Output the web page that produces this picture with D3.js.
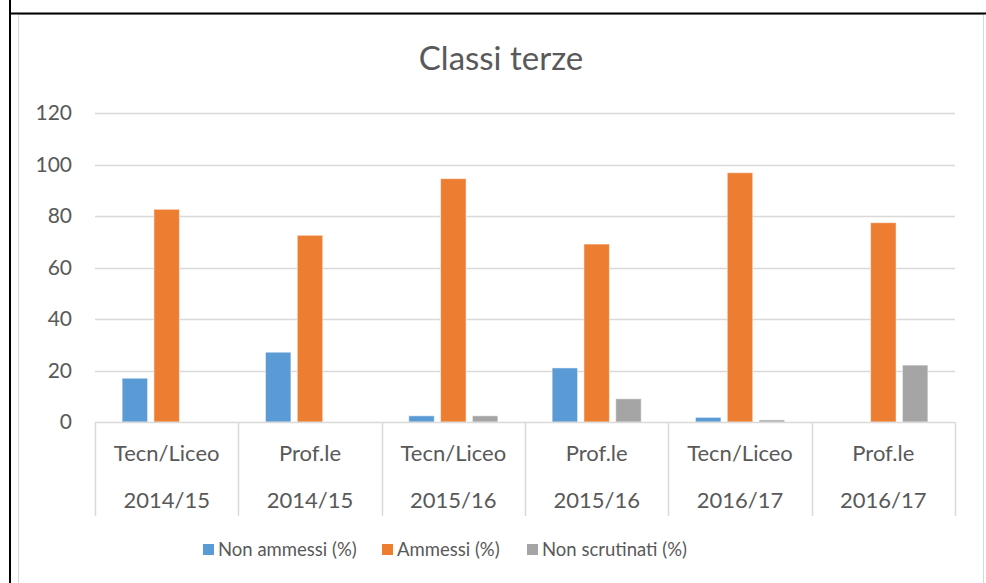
<!DOCTYPE html>
<html>
    <head>
        <title>Classi terze</title>
        <style>
            body { margin:0; background:white; }
            svg { display:block; font-family:Lato, "Open Sans", sans-serif; }
        </style>
    </head>
    <body>
        <div id="chart"></div>
        <script src="https://d3js.org/d3.v7.min.js"></script>
        <script>
            var indirizzi = ["Tecn/Liceo", "Prof.le", "Tecn/Liceo", "Prof.le", "Tecn/Liceo", "Prof.le"];
            var anni = ["2014/15", "2014/15", "2015/16", "2015/16", "2016/17", "2016/17"];
            var serie = ["Non ammessi (%)", "Ammessi (%)", "Non scrutinati (%)"];
            var nonAmmessi = [17, 27.1, 2.4, 21, 1.8, 0];
            var ammessi = [82.6, 72.5, 94.5, 69.1, 96.8, 77.4];
            var nonScrutinati = [0, 0, 2.4, 9, 0.8, 22.1];
            var yTicks = [0, 20, 40, 60, 80, 100, 120];
            var colori = ["#5B9BD5", "#ED7D31", "#A5A5A5"];

            var valori = [nonAmmessi, ammessi, nonScrutinati];
            var W = 986, H = 583;
            var svg = d3.select("#chart").append("svg")
                .attr("width", W).attr("height", H);

            // outer frame
            svg.append("rect").attr("x", 18.5).attr("y", 14.5)
                .attr("width", 965).attr("height", 580)
                .attr("fill", "white").attr("stroke", "#d9d9d9");
            svg.append("line").attr("x1", 9).attr("x2", 986).attr("y1", 13.5).attr("y2", 13.5)
                .attr("stroke", "black").attr("stroke-width", 2);
            svg.append("line").attr("x1", 10).attr("x2", 10).attr("y1", 0).attr("y2", H)
                .attr("stroke", "black").attr("stroke-width", 2);

            var plotL = 95, plotR = 955, plotT = 113, plotB = 422;
            var idx = d3.range(indirizzi.length);
            var x = d3.scaleBand().domain(idx).range([plotL, plotR]).padding(0);
            var xs = d3.scaleBand().domain(d3.range(serie.length))
                .range([0, x.bandwidth()]).paddingInner(0.2).paddingOuter(0.853);
            var y = d3.scaleLinear().domain([0, 120]).range([plotB, plotT]);

            svg.append("text").attr("x", 501).attr("y", 70)
                .attr("text-anchor", "middle").attr("font-size", 33)
                .attr("fill", "#595959").text("Classi terze");

            // gridlines
            svg.append("g").selectAll("line").data(yTicks.slice(1)).enter().append("line")
                .attr("x1", plotL).attr("x2", plotR)
                .attr("y1", function(d) { return Math.round(y(d)) + 0.5; })
                .attr("y2", function(d) { return Math.round(y(d)) + 0.5; })
                .attr("stroke", "#d9d9d9").attr("stroke-width", 1.5);

            var yAxis = svg.append("g").attr("transform", "translate(" + plotL + ",0)")
                .call(d3.axisLeft(y).tickValues(yTicks).tickSize(0).tickPadding(23));
            yAxis.select(".domain").remove();
            yAxis.selectAll("text").attr("font-size", 21).attr("fill", "#595959")
                .attr("font-family", "Lato, sans-serif");

            // bars
            svg.append("g").selectAll("g").data(valori).enter().append("g")
                .attr("fill", function(d, i) { return colori[i]; })
                .each(function(vals, s) {
                    d3.select(this).selectAll("rect").data(vals).enter().append("rect")
                        .attr("x", function(d, i) { return x(i) + xs(s); })
                        .attr("width", xs.bandwidth())
                        .attr("y", function(d) { return y(d); })
                        .attr("height", function(d) { return plotB - y(d); })
                        .attr("stroke", "white").attr("stroke-opacity", 0.5).attr("stroke-width", 1);
                });

            // category axis
            var ax = svg.append("g");
            ax.append("line").attr("x1", plotL).attr("x2", plotR).attr("y1", plotB + 0.5).attr("y2", plotB + 0.5)
                .attr("stroke", "#d9d9d9").attr("stroke-width", 1.5);
            ax.selectAll(".sep").data(d3.range(indirizzi.length + 1)).enter().append("line")
                .attr("x1", function(d) { return Math.round(plotL + d * x.bandwidth()) + 0.5; })
                .attr("x2", function(d) { return Math.round(plotL + d * x.bandwidth()) + 0.5; })
                .attr("y1", plotB).attr("y2", 516)
                .attr("stroke", "#d9d9d9").attr("stroke-width", 1.5);
            ax.selectAll(".l1").data(indirizzi).enter().append("text")
                .attr("x", function(d, i) { return x(i) + x.bandwidth() / 2; })
                .attr("y", 461).attr("text-anchor", "middle").attr("font-size", 22)
                .attr("fill", "#595959").text(function(d) { return d; });
            ax.selectAll(".l2").data(anni).enter().append("text")
                .attr("x", function(d, i) { return x(i) + x.bandwidth() / 2; })
                .attr("y", 508).attr("text-anchor", "middle").attr("font-size", 22)
                .attr("fill", "#595959").text(function(d) { return d; });

            // legend
            var legX = [203, 382, 527];
            var leg = svg.append("g").selectAll("g").data(serie).enter().append("g")
                .attr("transform", function(d, i) { return "translate(" + legX[i] + ",544)"; });
            leg.append("rect").attr("width", 11).attr("height", 11)
                .attr("fill", function(d, i) { return colori[i]; });
            leg.append("text").attr("x", 15).attr("y", 12).attr("font-size", 18.5)
                .attr("fill", "#595959").text(function(d) { return d; });
        </script>
    </body>
</html>
